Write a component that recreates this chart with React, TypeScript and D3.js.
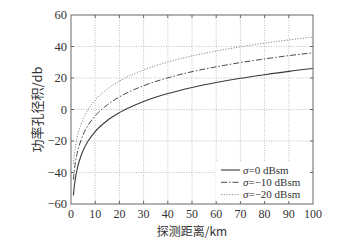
import React from "react";
import * as d3 from "d3";

const distances = [1, 1.5, 2, 3, 4, 5, 7, 10, 15, 20, 30, 40, 50, 60, 70, 80, 90, 100];
const sigma0 = [-54.5, -47, -42, -35, -30, -26, -20.2, -14, -7, -2, 5.1, 10.1, 14, 17.1, 19.8, 22.1, 24.2, 26];
const sigmaM10 = [-44.5, -37, -32, -25, -20, -16, -10.2, -4, 3, 8, 15.1, 20.1, 24, 27.1, 29.8, 32.1, 34.2, 36];
const sigmaM20 = [-34.5, -27, -22, -15, -10, -6, -0.2, 6, 13, 18, 25.1, 30.1, 34, 37.1, 39.8, 42.1, 44.2, 46];

const seriesNames = ["=0 dBsm", "=\u221210 dBsm", "=\u221220 dBsm"];
const xTicks = [0, 10, 20, 30, 40, 50, 60, 70, 80, 90, 100];
const yTicks = [-60, -40, -20, 0, 20, 40, 60];
const xTitle = "探测距离/km";
const yTitle = "功率孔径积/db";

const W = 360, H = 241;
const L = 71, R = 313, T = 15, B = 204;

export default function App() {
  const x = d3.scaleLinear().domain([0, 100]).range([L, R]);
  const y = d3.scaleLinear().domain([-60, 60]).range([B, T]);
  const line = d3
    .line<[number, number]>()
    .x((d) => x(d[0]))
    .y((d) => y(d[1]))
    .curve(d3.curveMonotoneX);
  const series = [
    { vals: sigma0, stroke: "#3a3a3a", dash: "none", w: 1.1 },
    { vals: sigmaM10, stroke: "#4a4a4a", dash: "6,2,1.5,2", w: 1.0 },
    { vals: sigmaM20, stroke: "#8a8a8a", dash: "1.2,1.5", w: 1.0 },
  ];
  const serif = "'Liberation Serif', 'DejaVu Serif', serif";
  const cjk = "'Noto Sans CJK SC', sans-serif";
  const legX = 218, legY = 170, legDy = 12.3;
  return (
    <svg
      width={W}
      height={H}
      style={{ position: "absolute", left: 0, top: 0, background: "#fff" }}
    >
      <rect x={0} y={0} width={W} height={H} fill="#fff" />
      {/* grid */}
      {xTicks.slice(1, -1).map((t) => (
        <line key={"gx" + t} x1={x(t)} x2={x(t)} y1={T} y2={B} stroke="#b0b0b0" strokeWidth={0.8} strokeDasharray="1,1.5" />
      ))}
      {yTicks.slice(1, -1).map((t) => (
        <line key={"gy" + t} x1={L} x2={R} y1={y(t)} y2={y(t)} stroke="#b0b0b0" strokeWidth={0.8} strokeDasharray="1,1.5" />
      ))}
      {/* curves */}
      {series.map((s, i) => (
        <path
          key={i}
          d={line(distances.map((d, j) => [d, s.vals[j]] as [number, number])) || ""}
          fill="none"
          stroke={s.stroke}
          strokeWidth={s.w}
          strokeDasharray={s.dash}
        />
      ))}
      {/* legend */}
      <rect x={216} y={162} width={R - 216} height={B - 162} fill="#fff" />
      {series.map((s, i) => (
        <g key={"lg" + i}>
          <line x1={legX + 3} x2={legX + 22} y1={legY + i * legDy} y2={legY + i * legDy} stroke={s.stroke} strokeWidth={s.w} strokeDasharray={s.dash} />
          <text x={legX + 25} y={legY + i * legDy + 3.8} fontFamily={serif} fontSize={11} fill="#333">
            <tspan fontStyle="italic">σ</tspan>
            {seriesNames[i]}
          </text>
        </g>
      ))}
      {/* ticks */}
      {xTicks.slice(1, -1).map((t) => (
        <g key={"tx" + t}>
          <line x1={x(t)} x2={x(t)} y1={B} y2={B - 3} stroke="#666" />
          <line x1={x(t)} x2={x(t)} y1={T} y2={T + 3} stroke="#666" />
        </g>
      ))}
      {yTicks.slice(1, -1).map((t) => (
        <g key={"ty" + t}>
          <line x1={L} x2={L + 3} y1={y(t)} y2={y(t)} stroke="#666" />
          <line x1={R} x2={R - 3} y1={y(t)} y2={y(t)} stroke="#666" />
        </g>
      ))}
      <rect x={L} y={T} width={R - L} height={B - T} fill="none" stroke="#666" strokeWidth={1} />
      {/* tick labels */}
      {xTicks.map((t) => (
        <text key={"lx" + t} x={x(t)} y={218} textAnchor="middle" fontFamily={serif} fontSize={12} fill="#333">
          {t}
        </text>
      ))}
      {yTicks.map((t) => (
        <text key={"ly" + t} x={67} y={y(t) + 4.2} textAnchor="end" fontFamily={serif} fontSize={12.5} fill="#333">
          {t < 0 ? "\u2212" + Math.abs(t) : String(t)}
        </text>
      ))}
      {/* titles */}
      <text x={(L + R) / 2} y={235.5} textAnchor="middle" fontFamily={cjk} fontSize={12} fill="#333">
        {xTitle}
      </text>
      <text
        transform={`translate(42, ${(T + B) / 2}) rotate(-90)`}
        textAnchor="middle"
        fontFamily={cjk}
        fontSize={13}
        fill="#333"
      >
        {yTitle}
      </text>
    </svg>
  );
}
